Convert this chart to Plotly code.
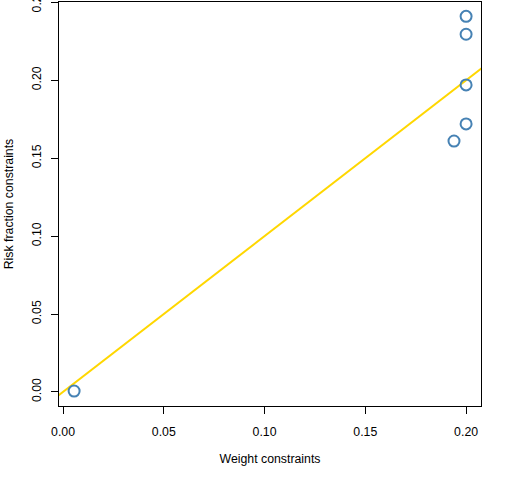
import plotly.graph_objects as go

# weight-constrained vs risk-fraction-constrained values
weight = [0.0055, 0.2, 0.2, 0.2, 0.2, 0.194]
risk = [0.0006, 0.241, 0.2295, 0.197, 0.172, 0.161]

x_ticks = [0.00, 0.05, 0.10, 0.15, 0.20]
y_ticks = [0.00, 0.05, 0.10, 0.15, 0.20, 0.25]

font = dict(family="Liberation Sans, Arial", size=12.3, color="black")

fig = go.Figure()

# y = x reference line
fig.add_trace(go.Scatter(x=[-0.01, 0.22], y=[-0.01, 0.22], mode="lines",
                         line=dict(color="#FFD700", width=2), hoverinfo="skip"))

fig.add_trace(go.Scatter(x=weight, y=risk, mode="markers",
                         marker=dict(symbol="circle-open", size=11, color="#4682B4",
                                     line=dict(width=2, color="#4682B4"))))

fig.update_layout(
    width=512, height=480,
    margin=dict(l=59, r=31, t=2, b=74),
    paper_bgcolor="white", plot_bgcolor="white",
    showlegend=False, font=font,
)
fig.update_xaxes(
    range=[-0.002, 0.2074], tickvals=x_ticks, tickformat=".2f", automargin=False,
    showgrid=False, zeroline=False, showline=True, mirror=True,
    linecolor="black", linewidth=1, ticks="outside", ticklen=7, tickcolor="black",
    ticklabelstandoff=7,
    title=dict(text="Weight constraints", standoff=16, font=font),
)
fig.update_yaxes(
    range=[-0.009, 0.2502], tickvals=y_ticks, tickformat=".2f", tickangle=-90,
    automargin=False, ticklabeloverflow="allow",
    showgrid=False, zeroline=False, showline=True, mirror=True,
    linecolor="black", linewidth=1, ticks="outside", ticklen=7, tickcolor="black",
    ticklabelstandoff=5,
    title=dict(text="Risk fraction constraints", standoff=13, font=font),
)

# drop the page's default body margin so the figure sits at the window corner
fig.write_html("out.html", config={"displayModeBar": False},
               post_script="document.body.style.margin='0';")
